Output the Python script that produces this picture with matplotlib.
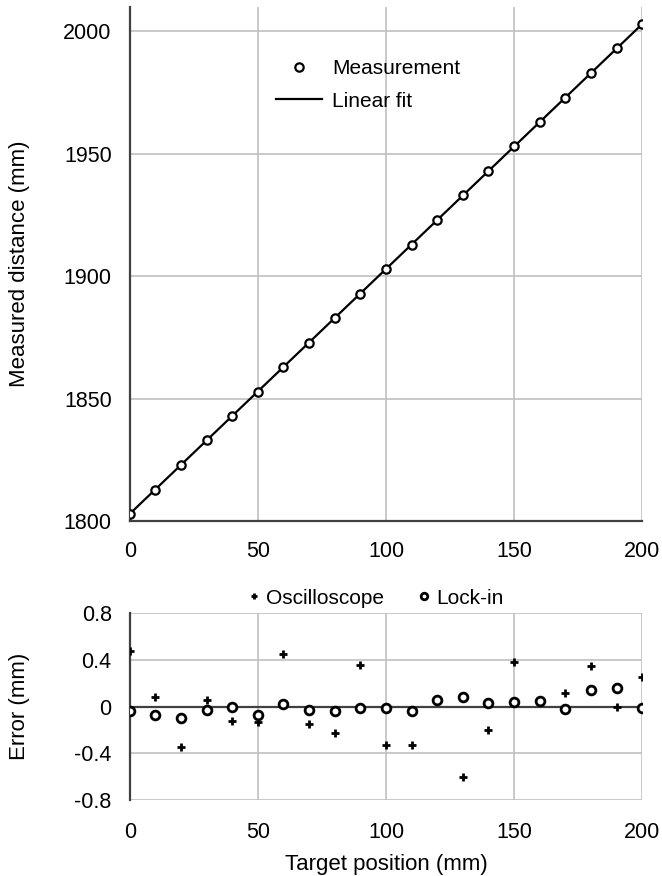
import matplotlib.pyplot as plt

plt.rcParams['font.family'] = ['Liberation Sans', 'DejaVu Sans']

target = [0, 10, 20, 30, 40, 50, 60, 70, 80, 90, 100,
          110, 120, 130, 140, 150, 160, 170, 180, 190, 200]
lockin_err = [-0.04, -0.07, -0.10, -0.03, 0.00, -0.07, 0.02, -0.03, -0.035, -0.015, -0.01,
              -0.04, 0.06, 0.08, 0.03, 0.04, 0.05, -0.02, 0.14, 0.155, -0.01]
osc_err = [0.48, 0.08, -0.35, 0.06, -0.12, -0.13, 0.45, -0.15, -0.23, 0.36, -0.33,
           -0.33, 0.06, -0.60, -0.20, 0.38, 0.05, 0.12, 0.35, 0.00, 0.25]
fit_offset = 1803.0
measured = [fit_offset + t + e for t, e in zip(target, lockin_err)]
fit_line = [fit_offset + t for t in target]

dark = '#404040'
grid = '#c0c0c0'

fig = plt.figure(figsize=(6.62, 8.76), dpi=100)
ax1 = fig.add_axes([0.196, 0.405, 0.774, 0.587])
ax2 = fig.add_axes([0.196, 0.0868, 0.774, 0.2132])

# top panel
ax1.plot(target, fit_line, color='black', lw=1.6, label='Linear fit', zorder=3)
ax1.plot(target, measured, 'o', ms=6, mfc='white', mec='black', mew=1.6,
         label='Measurement', zorder=4)
ax1.set_xlim(0, 200)
ax1.set_ylim(1800, 2010)
ax1.set_xticks([0, 50, 100, 150, 200])
ax1.set_yticks([1800, 1850, 1900, 1950, 2000])
ax1.set_ylabel('Measured distance (mm)', fontsize=16)
h, l = ax1.get_legend_handles_labels()
ax1.legend(h[::-1], l[::-1], loc='upper center', bbox_to_anchor=(0.465, 0.915),
           frameon=False, fontsize=15, handlelength=2.2, handletextpad=0.5,
           labelspacing=0.65, borderaxespad=0)

# bottom panel
ax2.axhline(0, color=dark, lw=1.6, zorder=2)
ax2.plot(target, osc_err, '+', ms=5.5, mec='black', mew=2.0, label='Oscilloscope', zorder=3)
ax2.plot(target, lockin_err, 'o', ms=6.3, mfc='white', mec='black', mew=2.0,
         label='Lock-in', zorder=4)
ax2.set_xlim(0, 200)
ax2.set_ylim(-0.8, 0.8)
ax2.set_xticks([0, 50, 100, 150, 200])
ax2.set_yticks([-0.8, -0.4, 0, 0.4, 0.8])
ax2.set_yticklabels(['-0.8', '-0.4', '0', '0.4', '0.8'])
ax2.set_xlabel('Target position (mm)', fontsize=16, labelpad=8)
ax2.set_ylabel('Error (mm)', fontsize=16)
ax2.legend(loc='lower center', bbox_to_anchor=(0.48, 0.985), ncol=2, frameon=False,
           fontsize=15, handlelength=0.6, handletextpad=0.3, columnspacing=1.6,
           borderaxespad=0.0, markerscale=0.75)

for ax in (ax1, ax2):
    ax.grid(True, color=grid, lw=1.2)
    ax.set_axisbelow(True)
    ax.tick_params(length=0, labelsize=15.5, pad=13, colors='black')
    ax.spines['top'].set_visible(False)
    ax.spines['right'].set_visible(False)
    ax.spines['left'].set_color(dark)
    ax.spines['left'].set_linewidth(1.6)
    ax.yaxis.set_label_coords(-0.195, 0.5)
ax1.spines['bottom'].set_color(dark)
ax1.spines['bottom'].set_linewidth(1.6)
ax1.tick_params(axis='x', pad=14)
ax2.spines['bottom'].set_visible(False)
ax2.tick_params(axis='x', pad=16)

fig.savefig('out.png', dpi=100)
